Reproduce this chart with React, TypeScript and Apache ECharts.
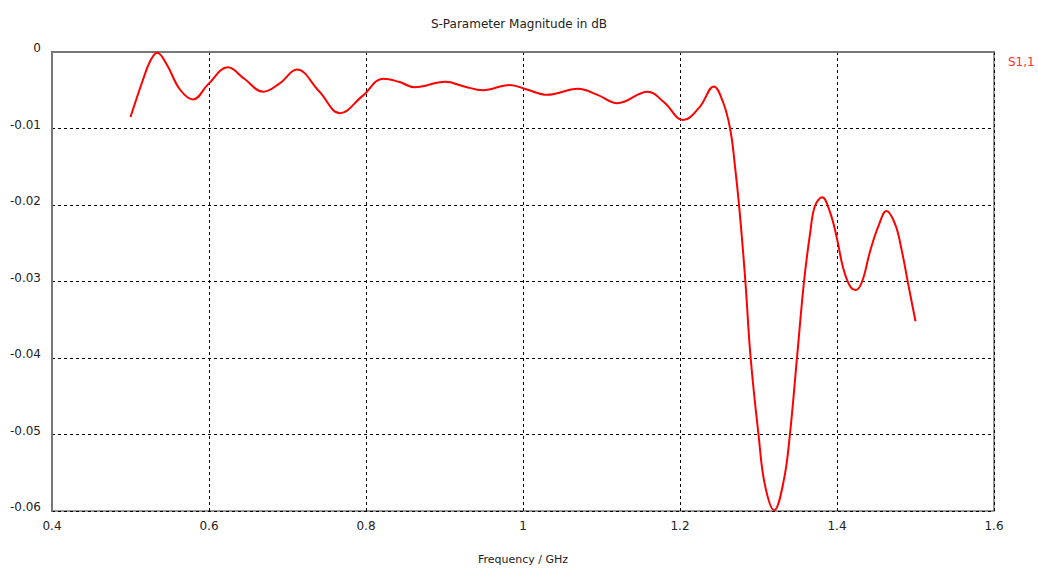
import React, { useEffect, useRef } from "react";
import * as echarts from "echarts";

const freqGHz = [
  0.5, 0.516, 0.525, 0.534, 0.546, 0.563, 0.58, 0.599, 0.624, 0.645, 0.669, 0.69, 0.712,
  0.74, 0.767, 0.795, 0.822, 0.842, 0.862, 0.901, 0.925, 0.949, 0.983, 1.005, 1.031,
  1.07, 1.095, 1.12, 1.159, 1.18, 1.204, 1.225, 1.243, 1.255, 1.264, 1.27, 1.276, 1.283,
  1.29, 1.3, 1.308, 1.32, 1.332, 1.34, 1.349, 1.358, 1.366, 1.372, 1.381, 1.391, 1.4,
  1.408, 1.417, 1.424, 1.432, 1.442, 1.453, 1.463, 1.474, 1.482, 1.491, 1.5,
];
const s11dB = [
  -0.0085, -0.0036, -0.0012, -0.0001, -0.0016, -0.0049, -0.0062, -0.0042, -0.002, -0.0035,
  -0.0052, -0.0041, -0.0023, -0.0051, -0.008, -0.0058, -0.0035, -0.0039, -0.0046, -0.0039,
  -0.0045, -0.005, -0.0043, -0.0049, -0.0056, -0.0048, -0.0056, -0.0067, -0.0052, -0.0066,
  -0.0089, -0.0072, -0.0045, -0.0066, -0.0101, -0.0149, -0.0209, -0.0296, -0.04, -0.05,
  -0.0565, -0.0599, -0.0561, -0.05, -0.04, -0.03, -0.0235, -0.0201, -0.019, -0.0209,
  -0.0244, -0.0283, -0.0307, -0.0311, -0.03, -0.0261, -0.0227, -0.0208, -0.0225, -0.0257,
  -0.0305, -0.0352,
];
const seriesName = "S1,1";
const titleText = "S-Parameter Magnitude in dB";
const xAxisTitle = "Frequency / GHz";

export default function App() {
  const ref = useRef<HTMLDivElement>(null);
  useEffect(() => {
    if (!ref.current) return;
    const chart = echarts.init(ref.current, undefined, { renderer: "svg" });
    const font = "Tahoma, 'DejaVu Sans', sans-serif";
    chart.setOption({
      animation: false,
      backgroundColor: "#fff",
      title: {
        text: titleText,
        left: "center",
        top: 13,
        textStyle: { fontSize: 12, fontWeight: "normal", color: "#222", fontFamily: font },
      },
      graphic: [
        {
          type: "text",
          left: 1008,
          top: 56,
          style: { text: seriesName, fill: "#ff3030", fontSize: 12, fontFamily: font },
        },
      ],
      grid: {
        left: 52,
        right: 44,
        top: 52,
        bottom: 56,
        show: true,
        borderColor: "#777",
        borderWidth: 1.5,
      },
      xAxis: {
        type: "value",
        min: 0.4,
        max: 1.6,
        interval: 0.2,
        name: xAxisTitle,
        nameLocation: "middle",
        nameGap: 43,
        nameTextStyle: { fontSize: 11, color: "#222", fontFamily: font },
        axisLine: { show: true, lineStyle: { color: "#777", width: 2 } },
        axisTick: { show: false },
        axisLabel: {
          fontSize: 12,
          color: "#222",
          fontFamily: font,
          margin: 9,
          formatter: (v: number) => String(Math.round(v * 10) / 10),
        },
        splitLine: { show: true, lineStyle: { color: "#000", type: [3, 3], width: 1 } },
      },
      yAxis: {
        type: "value",
        min: -0.06,
        max: 0,
        interval: 0.01,
        axisLine: { show: true, lineStyle: { color: "#777", width: 2 } },
        axisTick: { show: false },
        axisLabel: {
          fontSize: 12,
          color: "#222",
          fontFamily: font,
          margin: 11,
          verticalAlign: "bottom",
          lineHeight: 8,
          formatter: (v: number) => String(Math.round(v * 100) / 100),
        },
        splitLine: { show: true, lineStyle: { color: "#000", type: [3, 3], width: 1 } },
      },
      series: [
        {
          name: seriesName,
          type: "line",
          data: freqGHz.map((f, i) => [f, s11dB[i]]),
          smooth: 0.4,
          showSymbol: false,
          lineStyle: { color: "#ff0000", width: 2 },
          clip: true,
        },
      ],
    });
    return () => chart.dispose();
  }, []);
  return <div ref={ref} style={{ width: 1038, height: 570, position: "absolute", left: 0, top: 0 }} />;
}
